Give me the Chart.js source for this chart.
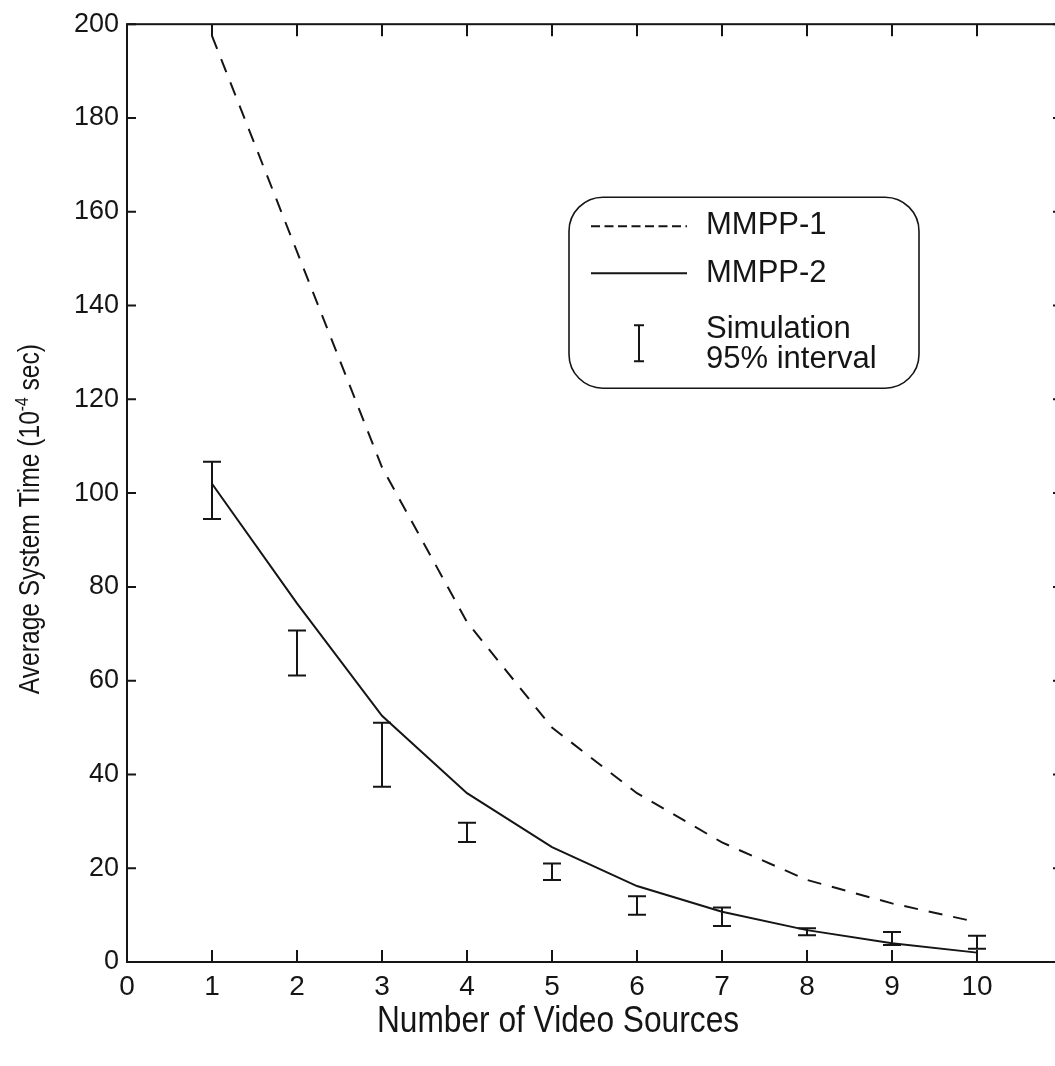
<!DOCTYPE html>
<html lang="en">
<head>
    <meta charset="UTF-8">
    <title>Average System Time vs Number of Video Sources</title>
    <script src="https://cdn.jsdelivr.net/npm/chart.js"></script>
    <style>
        html, body { margin: 0; padding: 0; background: #fff; overflow: hidden; }
        #wrap { width: 1070px; height: 1066px; }
    </style>
</head>
<body>
    <div id="wrap"><canvas id="systemTimeChart" width="1070" height="1066"></canvas></div>
    <script>
        // values (units: 10^-4 sec)
        const sources = [1, 2, 3, 4, 5, 6, 7, 8, 9, 10];
        const mmpp1 = [197.5, 151.5, 105.5, 72.5, 50, 36, 25.5, 17.5, 12.5, 8.5];
        const mmpp2 = [102, 76.5, 52.5, 36, 24.5, 16.2, 10.7, 6.8, 4.0, 2.0];
        const simLow = [94.5, 61.1, 37.4, 25.6, 17.5, 10.1, 7.7, 5.7, 3.6, 2.8];
        const simHigh = [106.7, 70.7, 51.0, 29.7, 21.0, 14.0, 11.6, 7.2, 6.4, 5.6];
        const xTickValues = [0, 1, 2, 3, 4, 5, 6, 7, 8, 9, 10, 11];
        const yTickValues = [0, 20, 40, 60, 80, 100, 120, 140, 160, 180, 200];

        const ink = '#151515';
        const plain = "'Liberation Sans', Arial, sans-serif";

        const toPoints = ys => sources.map((x, i) => ({ x: x, y: ys[i] }));

        // frame, inward ticks on all four sides, error bars, axis titles, legend box
        const figurePlugin = {
            id: 'figure',
            afterDatasetsDraw(chart) {
                const { ctx, chartArea: a, scales: { x, y } } = chart;
                ctx.save();
                ctx.strokeStyle = ink;
                ctx.lineWidth = 2;
                ctx.strokeRect(a.left, a.top, a.right - a.left, a.bottom - a.top);

                ctx.beginPath();
                xTickValues.forEach(v => {
                    const px = x.getPixelForValue(v);
                    ctx.moveTo(px, a.bottom); ctx.lineTo(px, a.bottom - 12);
                    ctx.moveTo(px, a.top); ctx.lineTo(px, a.top + 12);
                });
                yTickValues.forEach(v => {
                    const py = y.getPixelForValue(v);
                    ctx.moveTo(a.left, py); ctx.lineTo(a.left + 9, py);
                    ctx.moveTo(a.right, py); ctx.lineTo(a.right - 9, py);
                });
                ctx.stroke();

                // simulation 95% intervals
                ctx.beginPath();
                sources.forEach((s, i) => {
                    const px = x.getPixelForValue(s);
                    const lo = y.getPixelForValue(simLow[i]);
                    const hi = y.getPixelForValue(simHigh[i]);
                    ctx.moveTo(px, lo); ctx.lineTo(px, hi);
                    ctx.moveTo(px - 9, lo); ctx.lineTo(px + 9, lo);
                    ctx.moveTo(px - 9, hi); ctx.lineTo(px + 9, hi);
                });
                ctx.stroke();

                // legend
                const lx = a.left + 442, ly = a.top + 173, lw = 350, lh = 191;
                ctx.lineWidth = 1.6;
                ctx.beginPath();
                ctx.roundRect(lx, ly, lw, lh, 34);
                ctx.stroke();

                ctx.lineWidth = 2;
                ctx.setLineDash([9, 4.5]);
                ctx.beginPath();
                ctx.moveTo(lx + 22, ly + 29); ctx.lineTo(lx + 118, ly + 29);
                ctx.stroke();
                ctx.setLineDash([]);
                ctx.beginPath();
                ctx.moveTo(lx + 22, ly + 76); ctx.lineTo(lx + 118, ly + 76);
                ctx.moveTo(lx + 70, ly + 128); ctx.lineTo(lx + 70, ly + 164);
                ctx.moveTo(lx + 65, ly + 128); ctx.lineTo(lx + 75, ly + 128);
                ctx.moveTo(lx + 65, ly + 164); ctx.lineTo(lx + 75, ly + 164);
                ctx.stroke();

                ctx.fillStyle = ink;
                ctx.textAlign = 'left';
                ctx.textBaseline = 'middle';
                ctx.font = '31px ' + plain;
                ctx.fillText(chart.data.datasets[0].label, lx + 137, ly + 28);
                ctx.fillText(chart.data.datasets[1].label, lx + 137, ly + 76);
                ctx.fillText('Simulation', lx + 137, ly + 132);
                ctx.fillText('95% interval', lx + 137, ly + 162);

                // axis titles, squeezed horizontally to imitate a narrow face
                ctx.save();
                ctx.translate(x.getPixelForValue(5) + 6, a.bottom + 60);
                ctx.scale(0.88, 1);
                ctx.textAlign = 'center';
                ctx.font = '36px ' + plain;
                ctx.fillText('Number of Video Sources', 0, 0);
                ctx.restore();

                ctx.translate(31, (a.top + a.bottom) / 2 + 26);
                ctx.rotate(-Math.PI / 2);
                ctx.scale(0.82, 1);
                ctx.textAlign = 'left';
                const main = 'Average System Time (10';
                const tail = ' sec)';
                ctx.font = '30px ' + plain;
                const w1 = ctx.measureText(main).width;
                const w3 = ctx.measureText(tail).width;
                ctx.font = '19px ' + plain;
                const w2 = ctx.measureText('-4').width;
                const cx = -(w1 + w2 + w3) / 2;
                ctx.font = '30px ' + plain;
                ctx.fillText(main, cx, 0);
                ctx.font = '19px ' + plain;
                ctx.fillText('-4', cx + w1, -8);
                ctx.font = '30px ' + plain;
                ctx.fillText(tail, cx + w1 + w2, 0);
                ctx.restore();
            }
        };

        const ctx = document.getElementById('systemTimeChart').getContext('2d');
        const systemTimeChart = new Chart(ctx, {
            type: 'line',
            data: {
                datasets: [{
                    label: 'MMPP-1',
                    data: toPoints(mmpp1),
                    borderColor: ink,
                    borderWidth: 2,
                    borderDash: [14, 11],
                    pointRadius: 0,
                    fill: false,
                    tension: 0
                }, {
                    label: 'MMPP-2',
                    data: toPoints(mmpp2),
                    borderColor: ink,
                    borderWidth: 2,
                    pointRadius: 0,
                    fill: false,
                    tension: 0
                }]
            },
            options: {
                responsive: false,
                animation: false,
                devicePixelRatio: 1,
                layout: { padding: { top: 20, right: 8, left: 0, bottom: 0 } },
                plugins: {
                    legend: { display: false },
                    tooltip: { enabled: false }
                },
                scales: {
                    x: {
                        type: 'linear',
                        min: 0,
                        max: 11,
                        grid: { display: false, drawTicks: false },
                        border: { display: false },
                        afterFit: scale => { scale.height = 104; },
                        afterBuildTicks: scale => { scale.ticks = xTickValues.map(v => ({ value: v })); },
                        ticks: {
                            padding: 8,
                            color: ink,
                            maxRotation: 0,
                            autoSkip: false,
                            font: { family: plain, size: 28 },
                            callback: v => (v <= 10 ? v : '')
                        }
                    },
                    y: {
                        min: 0,
                        max: 200,
                        grid: { display: false, drawTicks: false },
                        border: { display: false },
                        afterFit: scale => { scale.width = 127; },
                        afterBuildTicks: scale => { scale.ticks = yTickValues.map(v => ({ value: v })); },
                        ticks: {
                            padding: 8,
                            color: ink,
                            font: { family: plain, size: 27 }
                        }
                    }
                }
            },
            plugins: [figurePlugin]
        });
    </script>
</body>
</html>
